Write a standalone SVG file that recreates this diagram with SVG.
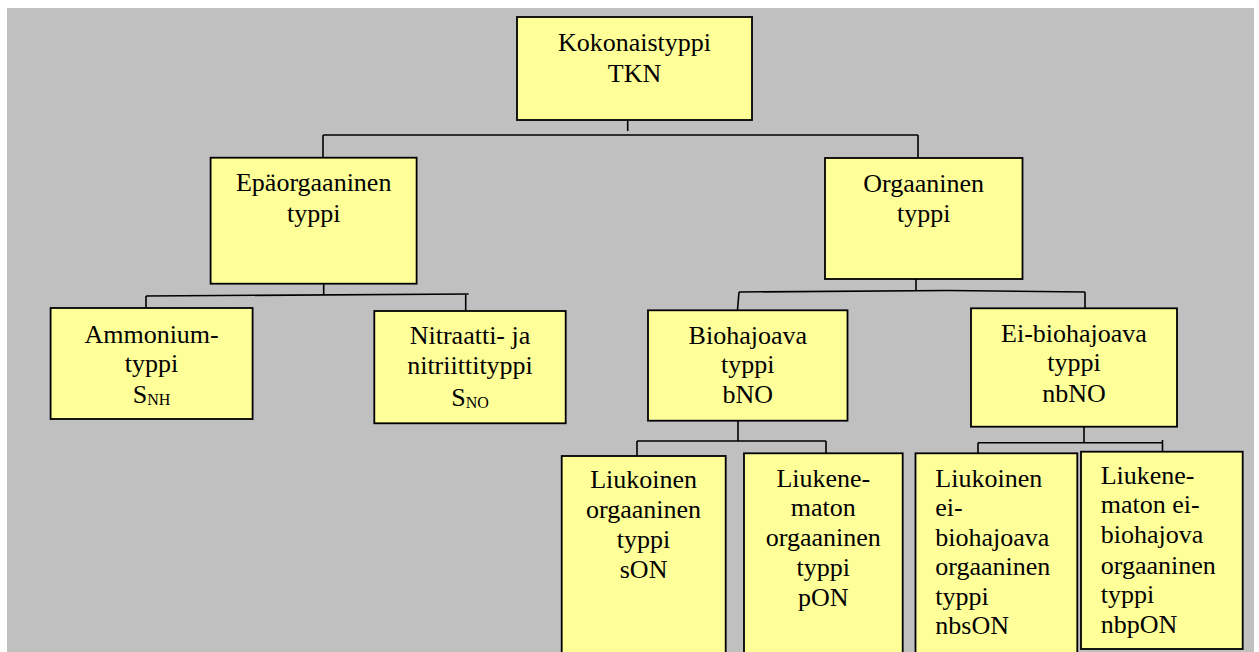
<svg xmlns="http://www.w3.org/2000/svg" width="1259" height="652" viewBox="0 0 1259 652">
<style>
.box{fill:#FFFF99;stroke:#000;stroke-width:1.8}
.t{font-family:"Liberation Serif","Times New Roman",serif;font-size:26px;fill:#000}
.c{text-anchor:middle}
.sub{font-size:16px}
.ln{fill:none;stroke:#000;stroke-width:1.6}
</style>
<rect x="0" y="0" width="1259" height="652" fill="#FFFFFF"/>
<rect x="7" y="8" width="1247" height="650" fill="#C0C0C0"/>
<g id="connectors">
<path class="ln" d="M627.7,117 V131"/>
<path class="ln" d="M323,135 H918 M323,135 V160 M918,135 V161"/>
<path class="ln" d="M323.7,281 V295 M146,296 L468.6,294 M146,296 V310 M465.7,294 V312"/>
<path class="ln" d="M916,279 V290.5 M739,292 L948,290.5 L1085,292 M739,292 L737.5,310 M1085,292 V312"/>
<path class="ln" d="M738,417 V441 M637,441 H826 M637,441 V456 M826,441 V453"/>
<path class="ln" d="M1084,423 V442.7 M978,442.7 H1163 M978,442.7 V454 M1162.5,440 V455"/>
</g>
<g id="n-total">
<rect class="box" x="517" y="17" width="235" height="103"/>
<text class="t c" x="634.5" y="50.7">Kokonaistyppi</text>
<text class="t c" x="634.5" y="81.7">TKN</text>
</g>
<g id="n-epaorg">
<rect class="box" x="210.6" y="157.7" width="206" height="126"/>
<text class="t c" x="313.7" y="190.7">Epäorgaaninen</text>
<text class="t c" x="313.7" y="221.7">typpi</text>
</g>
<g id="n-org">
<rect class="box" x="825" y="158" width="197.5" height="121"/>
<text class="t c" x="923.7" y="192">Orgaaninen</text>
<text class="t c" x="923.7" y="222">typpi</text>
</g>
<g id="n-ammonium">
<rect class="box" x="50.6" y="308" width="202" height="111"/>
<text class="t c" x="151.6" y="342.7">Ammonium-</text>
<text class="t c" x="151.6" y="371.7">typpi</text>
<text class="t c" x="151.6" y="403.3">S<tspan class="sub" dy="2">NH</tspan></text>
</g>
<g id="n-nitraatti">
<rect class="box" x="374.3" y="311" width="191.4" height="112.3"/>
<text class="t c" x="470" y="344.3">Nitraatti- ja</text>
<text class="t c" x="470" y="374.3">nitriittityppi</text>
<text class="t c" x="470" y="406">S<tspan class="sub" dy="2">NO</tspan></text>
</g>
<g id="n-bio">
<rect class="box" x="648" y="310.3" width="199.5" height="110.4"/>
<text class="t c" x="747.8" y="344">Biohajoava</text>
<text class="t c" x="747.8" y="372.7">typpi</text>
<text class="t c" x="747.8" y="402.7">bNO</text>
</g>
<g id="n-eibio">
<rect class="box" x="971" y="308.3" width="206" height="118.4"/>
<text class="t c" x="1074" y="342.3">Ei-biohajoava</text>
<text class="t c" x="1074" y="371">typpi</text>
<text class="t c" x="1074" y="402.3">nbNO</text>
</g>
<g id="n-son">
<rect class="box" x="561.7" y="456" width="164" height="210"/>
<text class="t c" x="643.6" y="488.3">Liukoinen</text>
<text class="t c" x="643.6" y="518.3">orgaaninen</text>
<text class="t c" x="643.6" y="548.3">typpi</text>
<text class="t c" x="643.6" y="578.3">sON</text>
</g>
<g id="n-pon">
<rect class="box" x="744" y="453.3" width="158.7" height="210"/>
<text class="t c" x="823.3" y="486.7">Liukene-</text>
<text class="t c" x="823.3" y="516">maton</text>
<text class="t c" x="823.3" y="545.7">orgaaninen</text>
<text class="t c" x="823.3" y="575.7">typpi</text>
<text class="t c" x="823.3" y="605.7">pON</text>
</g>
<g id="n-nbson">
<rect class="box" x="915.5" y="453.3" width="161.8" height="210"/>
<text class="t" x="935.3" y="486.7">Liukoinen</text>
<text class="t" x="935.3" y="516">ei-</text>
<text class="t" x="935.3" y="545.7">biohajoava</text>
<text class="t" x="935.3" y="575.3">orgaaninen</text>
<text class="t" x="935.3" y="605">typpi</text>
<text class="t" x="935.3" y="634.3">nbsON</text>
</g>
<g id="n-nbpon">
<rect class="box" x="1081" y="451.7" width="161.7" height="197.3"/>
<text class="t" x="1100.7" y="484">Liukene-</text>
<text class="t" x="1100.7" y="513.3">maton ei-</text>
<text class="t" x="1100.7" y="543.3">biohajova</text>
<text class="t" x="1100.7" y="574">orgaaninen</text>
<text class="t" x="1100.7" y="603.3">typpi</text>
<text class="t" x="1100.7" y="633.3">nbpON</text>
</g>
</svg>
